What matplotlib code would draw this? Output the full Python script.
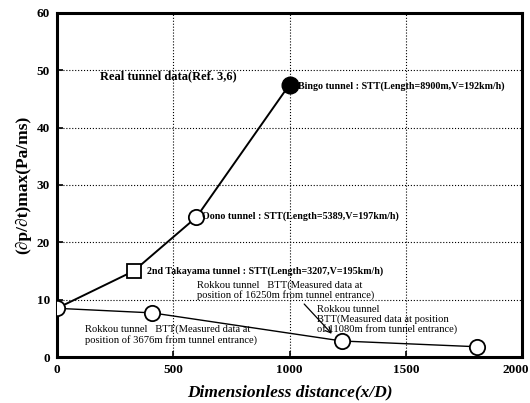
import matplotlib
matplotlib.use("Agg")
import matplotlib.pyplot as plt
from matplotlib.transforms import ScaledTranslation

# Real tunnel data
stt_x = [0, 330, 600, 1000]
stt_y = [8.5, 15.0, 24.4, 47.5]
btt_x = [0, 410, 1225, 1805]
btt_y = [8.5, 7.7, 2.8, 1.8]

x_ticks = [0, 500, 1000, 1500, 2000]
y_ticks = [0, 10, 20, 30, 40, 50, 60]

plt.rcParams['font.family'] = ['Liberation Serif', 'DejaVu Serif']

fig = plt.figure(figsize=(5.3, 4.03), dpi=100)
ax = fig.add_axes([0.1075, 0.114, 0.8775, 0.854])

ax.plot(stt_x, stt_y, '-', color='black', lw=1.4, zorder=2)
ax.plot(btt_x, btt_y, '-', color='black', lw=1.0, zorder=2)

# markers
ax.plot(btt_x, btt_y, 'o', ms=11, mfc='white', mec='black', mew=1.3, zorder=3)
ax.plot(stt_x[1], stt_y[1], 's', ms=10, mfc='white', mec='black', mew=1.3, zorder=3)
ax.plot(stt_x[2], stt_y[2], 'o', ms=11, mfc='white', mec='black', mew=1.3, zorder=3)
ax.plot(stt_x[3], stt_y[3], 'o', ms=12, mfc='black', mec='black', zorder=3)

ax.set_xlim(0, 2000)
ax.set_ylim(0, 60)
ax.set_xticks(x_ticks)
ax.set_yticks(y_ticks)
ax.set_xticklabels([str(v) for v in x_ticks], fontweight='bold', fontsize=9.5)
ax.set_yticklabels([str(v) for v in y_ticks], fontweight='bold', fontsize=9.5)
ax.tick_params(direction='in', length=4, width=1.2, pad=5)
ax.grid(True, linestyle=':', color='black', lw=0.8)
for s in ax.spines.values():
    s.set_linewidth(2.2)

# keep the last x tick label inside the figure
last = ax.get_xticklabels()[-1]
last.set_ha('right')
last.set_transform(last.get_transform() + ScaledTranslation(7 / 100, 0, fig.dpi_scale_trans))

ax.set_xlabel('Dimensionless distance(x/D)', fontsize=12.5, fontweight='bold',
              fontstyle='italic', labelpad=6)
ax.set_ylabel('(\u2202p/\u2202t)max(Pa/ms)', fontsize=12.5, fontweight='bold', labelpad=4)

ax.text(183, 48.9, 'Real tunnel data(Ref. 3,6)', fontsize=9, fontweight='bold',
        va='center', ha='left')
ax.text(1036, 47.3, 'Bingo tunnel : STT(Length=8900m,V=192km/h)', fontsize=7.2,
        fontweight='bold', va='center', ha='left')
ax.text(624, 24.5, 'Oono tunnel : STT(Length=5389,V=197km/h)', fontsize=7.2,
        fontweight='bold', va='center', ha='left')
ax.text(386, 15.0, '2nd Takayama tunnel : STT(Length=3207,V=195km/h)', fontsize=7.2,
        fontweight='bold', va='center', ha='left')
ax.text(603, 11.6, 'Rokkou tunnel   BTT(Measured data at\nposition of 16250m from tunnel entrance)',
        fontsize=7.6, va='center', ha='left', linespacing=1.05)
ax.text(119, 3.9, 'Rokkou tunnel   BTT(Measured data at\nposition of 3676m from tunnel entrance)',
        fontsize=7.6, va='center', ha='left', linespacing=1.05)
ax.text(1117, 6.6, 'Rokkou tunnel\nBTT(Measured data at position\nof 11080m from tunnel entrance)',
        fontsize=7.6, va='center', ha='left', linespacing=1.05)
ax.annotate('', xy=(1190, 3.7), xytext=(1055, 9.6),
            arrowprops=dict(arrowstyle='->', color='black', lw=0.9))

fig.savefig('out.png', dpi=100)
